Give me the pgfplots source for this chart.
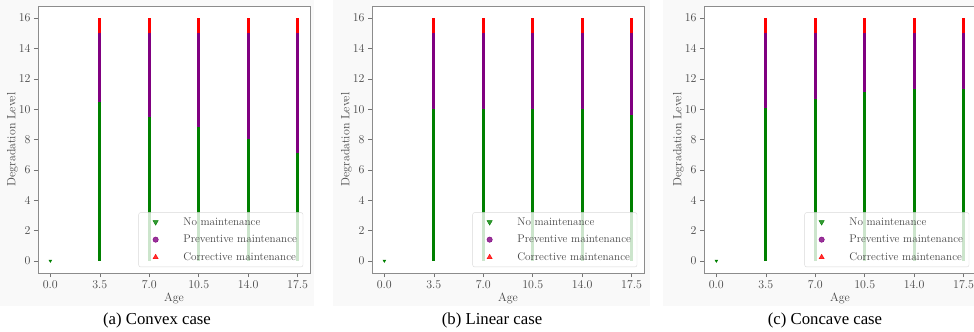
\documentclass[border=0pt]{standalone}
\usepackage{pgfplots}
\pgfplotsset{compat=1.18}
\usepackage{fontspec}
\newfontfamily\capfont{Liberation Serif}
\definecolor{mgreen}{HTML}{008000}
\definecolor{mpurple}{HTML}{800080}
\definecolor{mred}{HTML}{FF0000}
\definecolor{figbg}{HTML}{F9F9F9}
\pgfplotsset{
  panel/.style={
    scale only axis, width=272bp, height=267bp,
    xmin=-0.875, xmax=18.375, ymin=-0.8, ymax=16.8,
    xtick={0,3.5,7,10.5,14,17.5},
    xticklabels={0.0,3.5,7.0,10.5,14.0,17.5},
    ytick={0,2,4,6,8,10,12,14,16},
    tick align=outside, xtick pos=bottom, ytick pos=left,
    major tick length=4bp,
    tick style={black!55, line width=0.6bp},
    axis line style={black!45, line width=0.9bp},
    axis background/.style={fill=white},
    ticklabel style={font=\fontsize{12}{14}\selectfont, text=black!72},
    label style={font=\fontsize{12}{14}\selectfont, text=black!72},
    xlabel=Age, ylabel=Degradation Level,
    xlabel style={yshift=3bp},
    ylabel style={yshift=-6bp},
    legend style={at={(0.975,0.022)}, anchor=south east,
      fill=white, fill opacity=0.8, text opacity=1, draw=black!15,
      rounded corners=2bp, font=\fontsize{11.2}{13}\selectfont, text=black!72,
      row sep=4.4bp, inner xsep=4bp, inner ysep=3bp},
    legend cell align=left,
    legend image code/.code={\path (0cm,0cm) (1.35cm,0cm); \draw[##1] plot coordinates {(0.45cm,0cm)};},
  },
  col/.style={line width=2.8bp, line cap=butt, unbounded coords=jump},
}
\begin{document}
\begin{tikzpicture}
\useasboundingbox (0bp,0bp) rectangle (974bp,332bp);
\fill[figbg] (0bp,26bp) rectangle (314bp,332bp);
\fill[figbg] (333bp,26bp) rectangle (650bp,332bp);
\fill[figbg] (663bp,26bp) rectangle (974bp,332bp);

% (a) Convex
\begin{axis}[panel, at={(38bp,59bp)}, anchor=south west]
\addplot[col, mgreen, forget plot] coordinates {(3.5,0) (3.5,10.5) (7,nan) (7,0) (7,9.5) (10.5,nan) (10.5,0) (10.5,8.8) (14,nan) (14,0) (14,8.0) (17.5,nan) (17.5,0) (17.5,7.1)};
\addplot[only marks, mgreen, mark=triangle*, mark size=1.6bp, mark options={rotate=180}, forget plot] coordinates {(0,0)};
\addplot[col, mpurple, forget plot] coordinates {(3.5,10.5) (3.5,15) (7,nan) (7,9.5) (7,15) (10.5,nan) (10.5,8.8) (10.5,15) (14,nan) (14,8.0) (14,15) (17.5,nan) (17.5,7.1) (17.5,15)};
\addplot[col, mred, forget plot] coordinates {(3.5,15) (3.5,16) (7,nan) (7,15) (7,16) (10.5,nan) (10.5,15) (10.5,16) (14,nan) (14,15) (14,16) (17.5,nan) (17.5,15) (17.5,16)};
\addlegendimage{only marks, mgreen, mark=triangle*, mark size=3bp, mark options={rotate=180}}
\addlegendentry{No maintenance}
\addlegendimage{only marks, mpurple, mark=*, mark size=2.7bp}
\addlegendentry{Preventive maintenance}
\addlegendimage{only marks, mred, mark=triangle*, mark size=3bp}
\addlegendentry{Corrective maintenance}
\end{axis}

% (b) Linear
\begin{axis}[panel, at={(372bp,59bp)}, anchor=south west]
\addplot[col, mgreen, forget plot] coordinates {(3.5,0) (3.5,10.0) (7,nan) (7,0) (7,10.0) (10.5,nan) (10.5,0) (10.5,10.0) (14,nan) (14,0) (14,10.0) (17.5,nan) (17.5,0) (17.5,9.6)};
\addplot[only marks, mgreen, mark=triangle*, mark size=1.6bp, mark options={rotate=180}, forget plot] coordinates {(0,0)};
\addplot[col, mpurple, forget plot] coordinates {(3.5,10.0) (3.5,15) (7,nan) (7,10.0) (7,15) (10.5,nan) (10.5,10.0) (10.5,15) (14,nan) (14,10.0) (14,15) (17.5,nan) (17.5,9.6) (17.5,15)};
\addplot[col, mred, forget plot] coordinates {(3.5,15) (3.5,16) (7,nan) (7,15) (7,16) (10.5,nan) (10.5,15) (10.5,16) (14,nan) (14,15) (14,16) (17.5,nan) (17.5,15) (17.5,16)};
\addlegendimage{only marks, mgreen, mark=triangle*, mark size=3bp, mark options={rotate=180}}
\addlegendentry{No maintenance}
\addlegendimage{only marks, mpurple, mark=*, mark size=2.7bp}
\addlegendentry{Preventive maintenance}
\addlegendimage{only marks, mred, mark=triangle*, mark size=3bp}
\addlegendentry{Corrective maintenance}
\end{axis}

% (c) Concave
\begin{axis}[panel, at={(704bp,59bp)}, anchor=south west]
\addplot[col, mgreen, forget plot] coordinates {(3.5,0) (3.5,10.1) (7,nan) (7,0) (7,10.7) (10.5,nan) (10.5,0) (10.5,11.1) (14,nan) (14,0) (14,11.3) (17.5,nan) (17.5,0) (17.5,11.3)};
\addplot[only marks, mgreen, mark=triangle*, mark size=1.6bp, mark options={rotate=180}, forget plot] coordinates {(0,0)};
\addplot[col, mpurple, forget plot] coordinates {(3.5,10.1) (3.5,15) (7,nan) (7,10.7) (7,15) (10.5,nan) (10.5,11.1) (10.5,15) (14,nan) (14,11.3) (14,15) (17.5,nan) (17.5,11.3) (17.5,15)};
\addplot[col, mred, forget plot] coordinates {(3.5,15) (3.5,16) (7,nan) (7,15) (7,16) (10.5,nan) (10.5,15) (10.5,16) (14,nan) (14,15) (14,16) (17.5,nan) (17.5,15) (17.5,16)};
\addlegendimage{only marks, mgreen, mark=triangle*, mark size=3bp, mark options={rotate=180}}
\addlegendentry{No maintenance}
\addlegendimage{only marks, mpurple, mark=*, mark size=2.7bp}
\addlegendentry{Preventive maintenance}
\addlegendimage{only marks, mred, mark=triangle*, mark size=3bp}
\addlegendentry{Corrective maintenance}
\end{axis}

\node[font=\capfont\fontsize{16.8}{19}\selectfont, anchor=base] at (157bp,8bp) {(a) Convex case};
\node[font=\capfont\fontsize{16.8}{19}\selectfont, anchor=base] at (492bp,8bp) {(b) Linear case};
\node[font=\capfont\fontsize{16.8}{19}\selectfont, anchor=base] at (825bp,8bp) {(c) Concave case};
\end{tikzpicture}
\end{document}
